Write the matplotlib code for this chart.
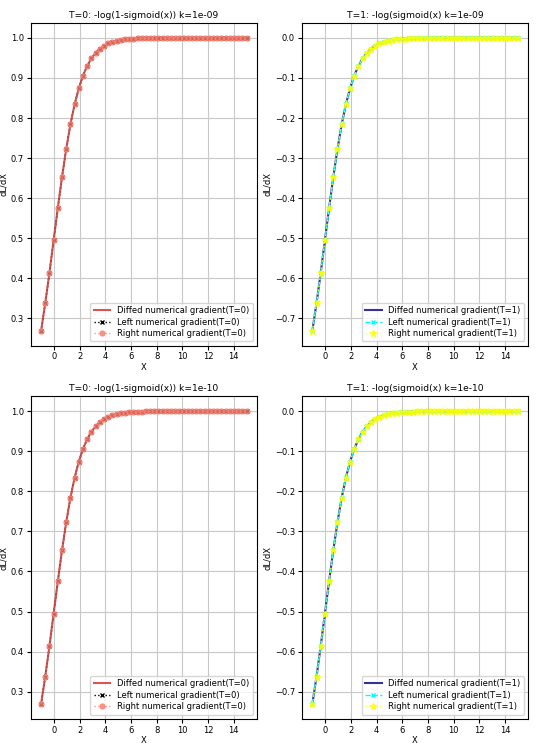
import matplotlib
matplotlib.use("Agg")
import matplotlib.pyplot as plt

x_vals = [-1.000, -0.673, -0.347, -0.020, 0.306, 0.633, 0.959, 1.286, 1.612, 1.939,
          2.265, 2.592, 2.918, 3.245, 3.571, 3.898, 4.224, 4.551, 4.878, 5.204,
          5.531, 5.857, 6.184, 6.510, 6.837, 7.163, 7.490, 7.816, 8.143, 8.469,
          8.796, 9.122, 9.449, 9.776, 10.102, 10.429, 10.755, 11.082, 11.408, 11.735,
          12.061, 12.388, 12.714, 13.041, 13.367, 13.694, 14.020, 14.347, 14.673, 15.000]

grad_t0 = [0.269, 0.338, 0.414, 0.495, 0.576, 0.653, 0.723, 0.784, 0.834, 0.874,
           0.906, 0.930, 0.949, 0.962, 0.973, 0.980, 0.986, 0.990, 0.992, 0.995,
           0.996, 0.997, 0.998, 0.9985, 0.999, 0.9992, 0.9994, 0.9996, 0.9997, 0.9998,
           0.9998, 0.9999, 0.9999, 0.9999, 1.000, 1.000, 1.000, 1.000, 1.000, 1.000,
           1.000, 1.000, 1.000, 1.000, 1.000, 1.000, 1.000, 1.000, 1.000, 1.000]

grad_t1 = [-0.731, -0.662, -0.586, -0.505, -0.424, -0.347, -0.277, -0.216, -0.166, -0.126,
           -0.094, -0.070, -0.051, -0.038, -0.027, -0.020, -0.014, -0.010, -0.008, -0.005,
           -0.004, -0.003, -0.002, -0.0015, -0.001, -0.0008, -0.0006, -0.0004, -0.0003, -0.0002,
           -0.0002, -0.0001, -0.0001, -0.0001, 0.0, 0.0, 0.0, 0.0, 0.0, 0.0,
           0.0, 0.0, 0.0, 0.0, 0.0, 0.0, 0.0, 0.0, 0.0, 0.0]

k_labels = ["1e-09", "1e-10"]

fig, axes = plt.subplots(2, 2, figsize=(5.4, 7.48), dpi=100)
fig.subplots_adjust(left=0.057, right=0.978, top=0.969, bottom=0.039, wspace=0.2, hspace=0.158)

for row, k in enumerate(k_labels):
    ax = axes[row][0]
    ax.plot(x_vals, grad_t0, color='#d62728', lw=1.5, alpha=0.8, label='Diffed numerical gradient(T=0)')
    ax.plot(x_vals, grad_t0, 'k:', marker='x', ms=2.5, lw=1, label='Left numerical gradient(T=0)')
    ax.plot(x_vals, grad_t0, linestyle=':', marker='o', color='salmon', ms=3.5, lw=1, alpha=0.8,
            label='Right numerical gradient(T=0)')
    ax.set_title("T=0: -log(1-sigmoid(x)) k=" + k, fontsize=6.6, pad=4)

    ax = axes[row][1]
    ax.plot(x_vals, grad_t1, color='navy', lw=1.5, alpha=0.8, label='Diffed numerical gradient(T=1)')
    ax.plot(x_vals, grad_t1, '--', color='cyan', marker='x', ms=2.5, lw=1, label='Left numerical gradient(T=1)')
    ax.plot(x_vals, grad_t1, linestyle=':', marker='*', color='yellow', ms=5, lw=1, alpha=0.8,
            label='Right numerical gradient(T=1)')
    ax.set_title("T=1: -log(sigmoid(x) k=" + k, fontsize=6.6, pad=4)

for ax in axes.flat:
    ax.grid(True, color='#c8c8c8', lw=0.8)
    ax.set_xlabel("X", fontsize=6, labelpad=1)
    ax.set_ylabel("dL/dX", fontsize=6, labelpad=2)
    ax.set_xticks([0, 2, 4, 6, 8, 10, 12, 14])
    ax.tick_params(labelsize=6, length=3, pad=2)
    ax.legend(loc='lower right', fontsize=6, handlelength=2, borderpad=0.4, labelspacing=0.3)

fig.savefig("out.png")
